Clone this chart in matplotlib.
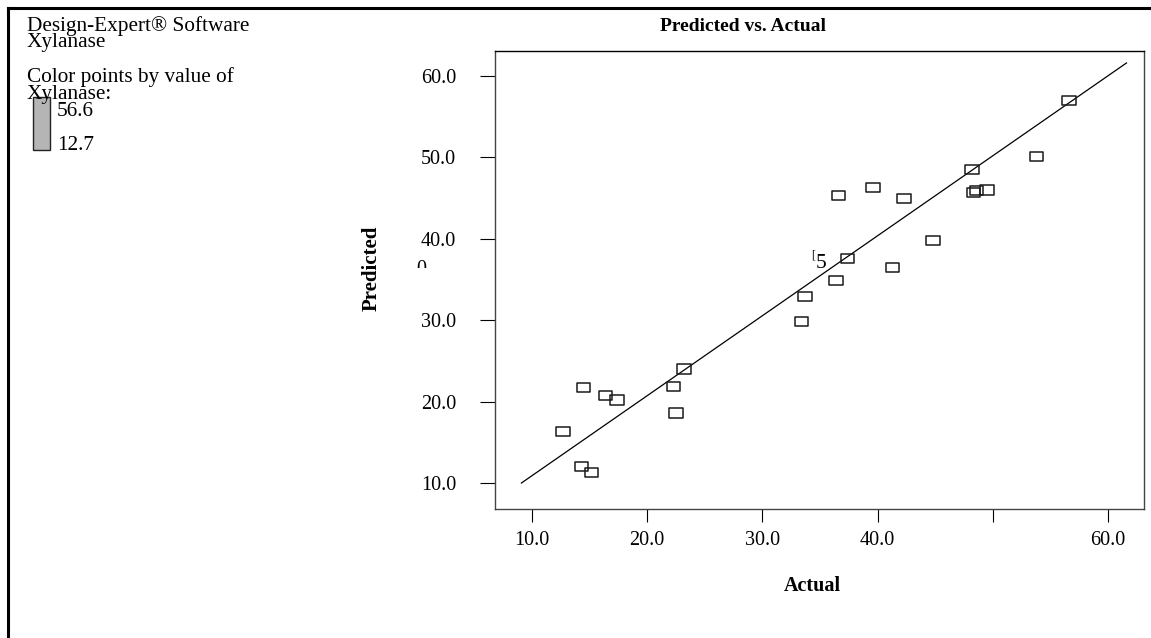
import numpy as np
import matplotlib
matplotlib.use("Agg")
import matplotlib.pyplot as plt
from matplotlib.path import Path
from matplotlib.patches import Rectangle
from matplotlib.lines import Line2D

plt.rcParams['font.family'] = ['Liberation Serif', 'DejaVu Serif']

# ---- data ----
actual = [14.5, 16.4, 17.4, 12.7, 14.3, 15.2, 23.2, 22.3, 22.5,
          36.6, 39.6, 42.3, 48.2, 48.6, 49.5, 48.3, 44.8, 37.4,
          41.3, 36.4, 33.7, 33.4, 56.6, 53.8]
predicted = [21.7, 20.8, 20.2, 16.3, 12.0, 11.3, 24.0, 21.9, 18.6,
             45.3, 46.3, 45.0, 48.5, 45.9, 46.0, 45.7, 39.8, 37.6,
             36.5, 34.9, 32.9, 29.8, 57.0, 50.1]
line_x = [9.1, 61.6]
line_y = [10.0, 61.6]
tick_values = [10, 20, 30, 40, 50, 60]
x_tick_labels = ["10.0", "20.0", "30.0", "40.0", "", "60.0"]
y_tick_labels = ["10.0", "20.0", "30.0", "40.0", "50.0", "60.0"]
color_max, color_min = 56.6, 12.7

W, H = 1151, 638
fig = plt.figure(figsize=(W / 100, H / 100), dpi=100)

def fx(x):
    return x / W

def fy(y):
    return 1 - y / H

FS = 14.5
HFS = 15.3

# axes: left 495, right 1144, top 51, bottom 509 (pixels)
ax = fig.add_axes([fx(495), fy(509), fx(1144) - fx(495), fy(51) - fy(509)])
ax.set_xlim(6.81, 63.12)
ax.set_ylim(6.81, 63.07)

rect = Path([(-1, -0.69), (1, -0.69), (1, 0.69), (-1, 0.69), (-1, -0.69)],
            [Path.MOVETO, Path.LINETO, Path.LINETO, Path.LINETO, Path.CLOSEPOLY])
ax.plot(line_x, line_y, color='black', lw=0.9, zorder=2)
ax.scatter(actual, predicted, marker=rect, s=(9.6) ** 2, facecolors='none',
           edgecolors='#1a1a1a', linewidths=1.1, zorder=3)

ax.set_xticks(tick_values)
ax.set_xticklabels(x_tick_labels)
ax.set_yticks(tick_values)
ax.set_yticklabels(y_tick_labels)
ax.tick_params(axis='x', direction='out', length=9.5, width=0.8, pad=6, labelsize=FS)
ax.tick_params(axis='y', direction='out', length=11, width=0.8, pad=17, labelsize=FS)
for s in ['left', 'bottom', 'right']:
    ax.spines[s].set_color('#444444')
    ax.spines[s].set_linewidth(1.0)
ax.spines['top'].set_color('black')
ax.spines['top'].set_linewidth(1.0)

fig.text(fx(743), fy(31), "Predicted vs. Actual", ha='center', va='baseline',
         fontsize=FS - 0.5, fontweight='bold')
fig.text(fx(812), fy(591), "Actual", ha='center', va='baseline',
         fontsize=FS, fontweight='bold')
fig.text(fx(372), fy(268), "Predicted", ha='center', va='center',
         rotation=90, fontsize=FS + 0.5, fontweight='bold')

# odd glyph fragments
fig.text(fx(816), fy(268), "5", fontsize=FS + 1, ha='left', va='baseline')
fig.text(fx(813.5), fy(258), "[", fontsize=FS - 6, ha='center', va='baseline')
t0 = fig.text(fx(421), fy(274), "0", fontsize=FS, ha='center', va='baseline')
t0.set_clip_path(Rectangle((0, H - 268), W, 10, transform=None))
t0.set_clip_on(True)

# header texts
fig.text(fx(27), fy(31), "Design-Expert\u00ae Software", fontsize=HFS, va='baseline')
fig.text(fx(27), fy(47), "Xylanase", fontsize=HFS, va='baseline')
fig.text(fx(27), fy(82), "Color points by value of", fontsize=HFS, va='baseline')
fig.text(fx(27), fy(99), "Xylanase:", fontsize=HFS, va='baseline')
fig.text(fx(57), fy(116), f"{color_max}", fontsize=HFS, va='baseline')
fig.text(fx(57), fy(150), f"{color_min}", fontsize=HFS, va='baseline')

# color bar
fig.patches.append(Rectangle((fx(33), fy(150)), fx(50) - fx(33), fy(97) - fy(150),
                             transform=fig.transFigure, facecolor='#b5b5b5',
                             edgecolor='#222222', lw=1.0))
cax = fig.add_axes([fx(48.5), fy(149), fx(1.5), fy(98) - fy(149)])
grad = np.array([[1, 0, 0], [1, 1, 0], [0, 1, 0], [0, 1, 1], [0, 0, 1]])[:, None, :]
cax.imshow(grad, aspect='auto', interpolation='bilinear')
cax.axis('off')

# outer frame (left + top)
fig.add_artist(Line2D([fx(8), fx(8)], [0, fy(8)], color='black', lw=2.2,
                      transform=fig.transFigure))
fig.add_artist(Line2D([fx(8), 1], [fy(8), fy(8)], color='black', lw=2.2,
                      transform=fig.transFigure))

fig.savefig("out.png", dpi=100)
